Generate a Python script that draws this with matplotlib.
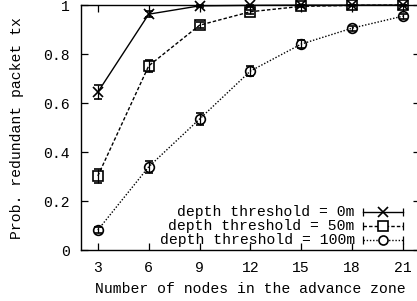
import matplotlib
matplotlib.use("Agg")
import matplotlib.pyplot as plt

nodes = [3, 6, 9, 12, 15, 18, 21]
p_0m = [0.645, 0.963, 0.997, 0.999, 1.0, 1.0, 1.0]
e_0m = [0.03, 0.012, 0.004, 0.002, 0.001, 0.001, 0.001]
p_50m = [0.303, 0.752, 0.918, 0.973, 0.995, 0.999, 1.0]
e_50m = [0.03, 0.025, 0.012, 0.008, 0.004, 0.002, 0.002]
p_100m = [0.082, 0.34, 0.535, 0.731, 0.841, 0.906, 0.955]
e_100m = [0.012, 0.025, 0.025, 0.02, 0.015, 0.01, 0.01]
labels = ["depth threshold = 0m", "depth threshold = 50m", "depth threshold = 100m"]
xticks = [3, 6, 9, 12, 15, 18, 21]
yticks = [0, 0.2, 0.4, 0.6, 0.8, 1.0]
yticklabels = ["0", "0.2", "0.4", "0.6", "0.8", "1"]

plt.rcParams['font.family'] = ['Liberation Mono', 'DejaVu Sans Mono']
fs = 10.6

fig = plt.figure(figsize=(4.17, 3.01), dpi=100)
ax = fig.add_axes([0.194, 0.169, 0.813, 0.814])

series = [
    (p_0m, e_0m, '-', 'x', labels[0]),
    (p_50m, e_50m, (0, (2.5, 1.5)), 's', labels[1]),
    (p_100m, e_100m, (0, (1, 1.3)), 'o', labels[2]),
]
for vals, errs, ls, mk, lab in series:
    ax.errorbar(nodes, vals, yerr=errs, color='black', linestyle=ls, linewidth=1.0,
                marker=mk, markersize=7, markerfacecolor='none', markeredgecolor='black',
                markeredgewidth=1.2, ecolor='black', elinewidth=0.9, capsize=3, capthick=0.9,
                clip_on=False, zorder=3)

ax.set_xlim(2, 22)
ax.set_ylim(0, 1)
ax.set_xticks(xticks)
ax.set_xticklabels([str(t) for t in xticks], fontsize=fs)
ax.set_yticks(yticks)
ax.set_yticklabels(yticklabels, fontsize=fs)
ax.tick_params(direction='in', length=5, width=0.9, top=True, right=True, pad=8)
for s in ax.spines.values():
    s.set_linewidth(1.0)
ax.set_xlabel("Number of nodes in the advance zone", fontsize=fs, labelpad=5)
ax.set_ylabel("Prob. redundant packet tx", fontsize=fs, labelpad=14)

# gnuplot-style key
rows_y = [0.155, 0.098, 0.041]
styles = ['-', (0, (2.5, 1.5)), (0, (1, 1.3))]
markers = ['x', 's', 'o']
x0, x1 = 0.832, 0.950
for yv, lab, ls, mk in zip(rows_y, labels, styles, markers):
    ax.text(0.808, yv, lab, transform=ax.transAxes, ha='right', va='center', fontsize=fs)
    ax.plot([x0, x1], [yv, yv], transform=ax.transAxes, color='black', linestyle=ls,
            linewidth=1.0, clip_on=False)
    ax.plot([x0, x1], [yv, yv], transform=ax.transAxes, color='black', linestyle='none',
            marker='|', markersize=6, markeredgewidth=0.9, clip_on=False)
    ax.plot([(x0 + x1) / 2], [yv], transform=ax.transAxes, color='black', linestyle='none',
            marker=mk, markersize=6.5, markerfacecolor='white', markeredgewidth=1.2, clip_on=False)

fig.savefig("out.png", dpi=100)
